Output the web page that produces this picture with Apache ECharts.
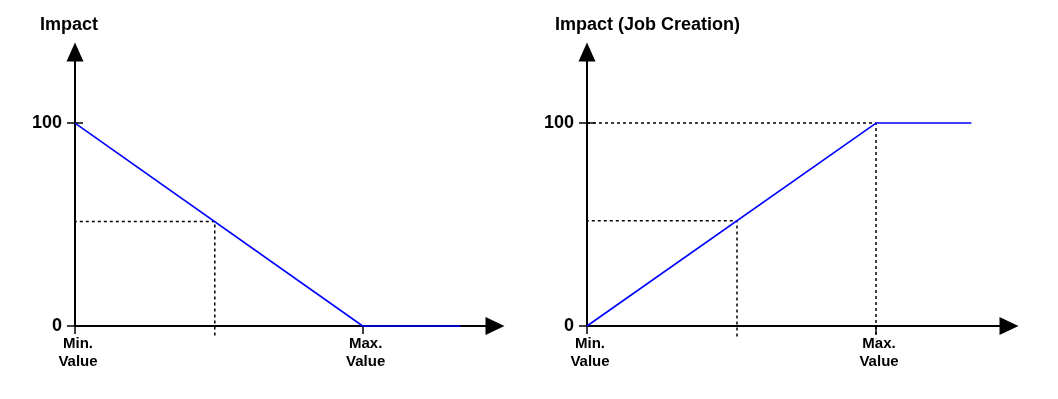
<!DOCTYPE html>
<html><head><meta charset="utf-8">
<script src="https://cdn.jsdelivr.net/npm/echarts@6/dist/echarts.min.js"></script>
<style>html,body{margin:0;padding:0;background:#fff}#c{width:1058px;height:399px}</style>
</head><body><div id="c"></div>
<script>
// ---- data ----
const titles = ['Impact', 'Impact (Job Creation)'];
const xTickValues = [0, 1];
const xTickLabels = ['Min.\nValue', 'Max.\nValue'];
const yTickValues = [0, 100];
const yInnerTickValues = [100];
// main impact curves (x: 0 = Min. Value, 1 = Max. Value)
const leftCurve = [[0, 100], [1, 0], [1.34, 0]];
const rightCurve = [[0, 0], [1, 100], [1.33, 100]];
// dotted guide lines
const leftGuide = [[-0.025, 51.5], [0.486, 51.5], [0.486, -6]];
const rightGuideMid = [[-0.025, 51.9], [0.519, 51.9], [0.519, -6]];
const rightGuideTop = [[0, 100], [1, 100], [1, -6]];

const FONT = '"Liberation Sans", Arial, sans-serif';
const chart = echarts.init(document.getElementById('c'), null, {renderer: 'canvas'});

function xAxis(gi) {
  return {
    type: 'value', gridIndex: gi, min: 0, max: 1.46,
    splitLine: {show: false},
    axisLine: {show: true, lineStyle: {color: '#000', width: 2}, symbol: ['none', 'triangle'], symbolSize: [18, 19]},
    axisTick: {show: true, customValues: xTickValues, length: 8, lineStyle: {color: '#000', width: 1.5}},
    axisLabel: {
      show: true, customValues: xTickValues, margin: 9,
      formatter: v => xTickLabels[xTickValues.indexOf(v)] || '',
      color: '#000', fontFamily: FONT, fontWeight: 'bold', fontSize: 15, lineHeight: 18,
      padding: [0, 0, 0, 6]
    }
  };
}
function yAxis(gi) {
  return {
    type: 'value', gridIndex: gi, min: 0, max: 135,
    splitLine: {show: false},
    axisLine: {show: true, lineStyle: {color: '#000', width: 2}, symbol: ['none', 'triangle'], symbolSize: [17, 19]},
    axisTick: {show: true, customValues: yTickValues, length: 8, lineStyle: {color: '#000', width: 1.5}},
    axisLabel: {
      show: true, customValues: yTickValues, margin: 13,
      color: '#000', fontFamily: FONT, fontWeight: 'bold', fontSize: 18
    }
  };
}
// same scale, only draws the inner half of the 100 tick
function yAxisInner(gi) {
  return {
    type: 'value', gridIndex: gi, min: 0, max: 135, position: 'left',
    splitLine: {show: false},
    axisLine: {show: false},
    axisTick: {show: true, inside: true, customValues: yInnerTickValues, length: 8, lineStyle: {color: '#000', width: 1.5}},
    axisLabel: {show: false}
  };
}
const guideStyle = {color: '#000', width: 1.5, type: [3, 3]};
function lineSeries(data, gi, style, z) {
  return {
    type: 'line', xAxisIndex: gi, yAxisIndex: gi, data: data, showSymbol: false,
    symbol: 'none', clip: false, lineStyle: style, z: z, silent: true, animation: false
  };
}

chart.setOption({
  animation: false,
  backgroundColor: '#fff',
  title: [
    {text: titles[0], left: 40, top: 16, padding: 0, textStyle: {fontFamily: FONT, fontWeight: 'bold', fontSize: 18, color: '#000'}},
    {text: titles[1], left: 555, top: 16, padding: 0, textStyle: {fontFamily: FONT, fontWeight: 'bold', fontSize: 18, color: '#000'}}
  ],
  grid: [
    {left: 75, top: 52, width: 420, height: 274},
    {left: 587, top: 52, width: 422, height: 274}
  ],
  xAxis: [xAxis(0), xAxis(1)],
  yAxis: [yAxis(0), yAxis(1), yAxisInner(0), yAxisInner(1)],
  series: [
    lineSeries(leftGuide, 0, guideStyle, 1),
    lineSeries(rightGuideMid, 1, guideStyle, 1),
    lineSeries(rightGuideTop, 1, guideStyle, 1),
    lineSeries(leftCurve, 0, {color: '#0000ff', width: 1.6}, 3),
    lineSeries(rightCurve, 1, {color: '#0000ff', width: 1.6}, 3)
  ]
});
</script></body></html>
